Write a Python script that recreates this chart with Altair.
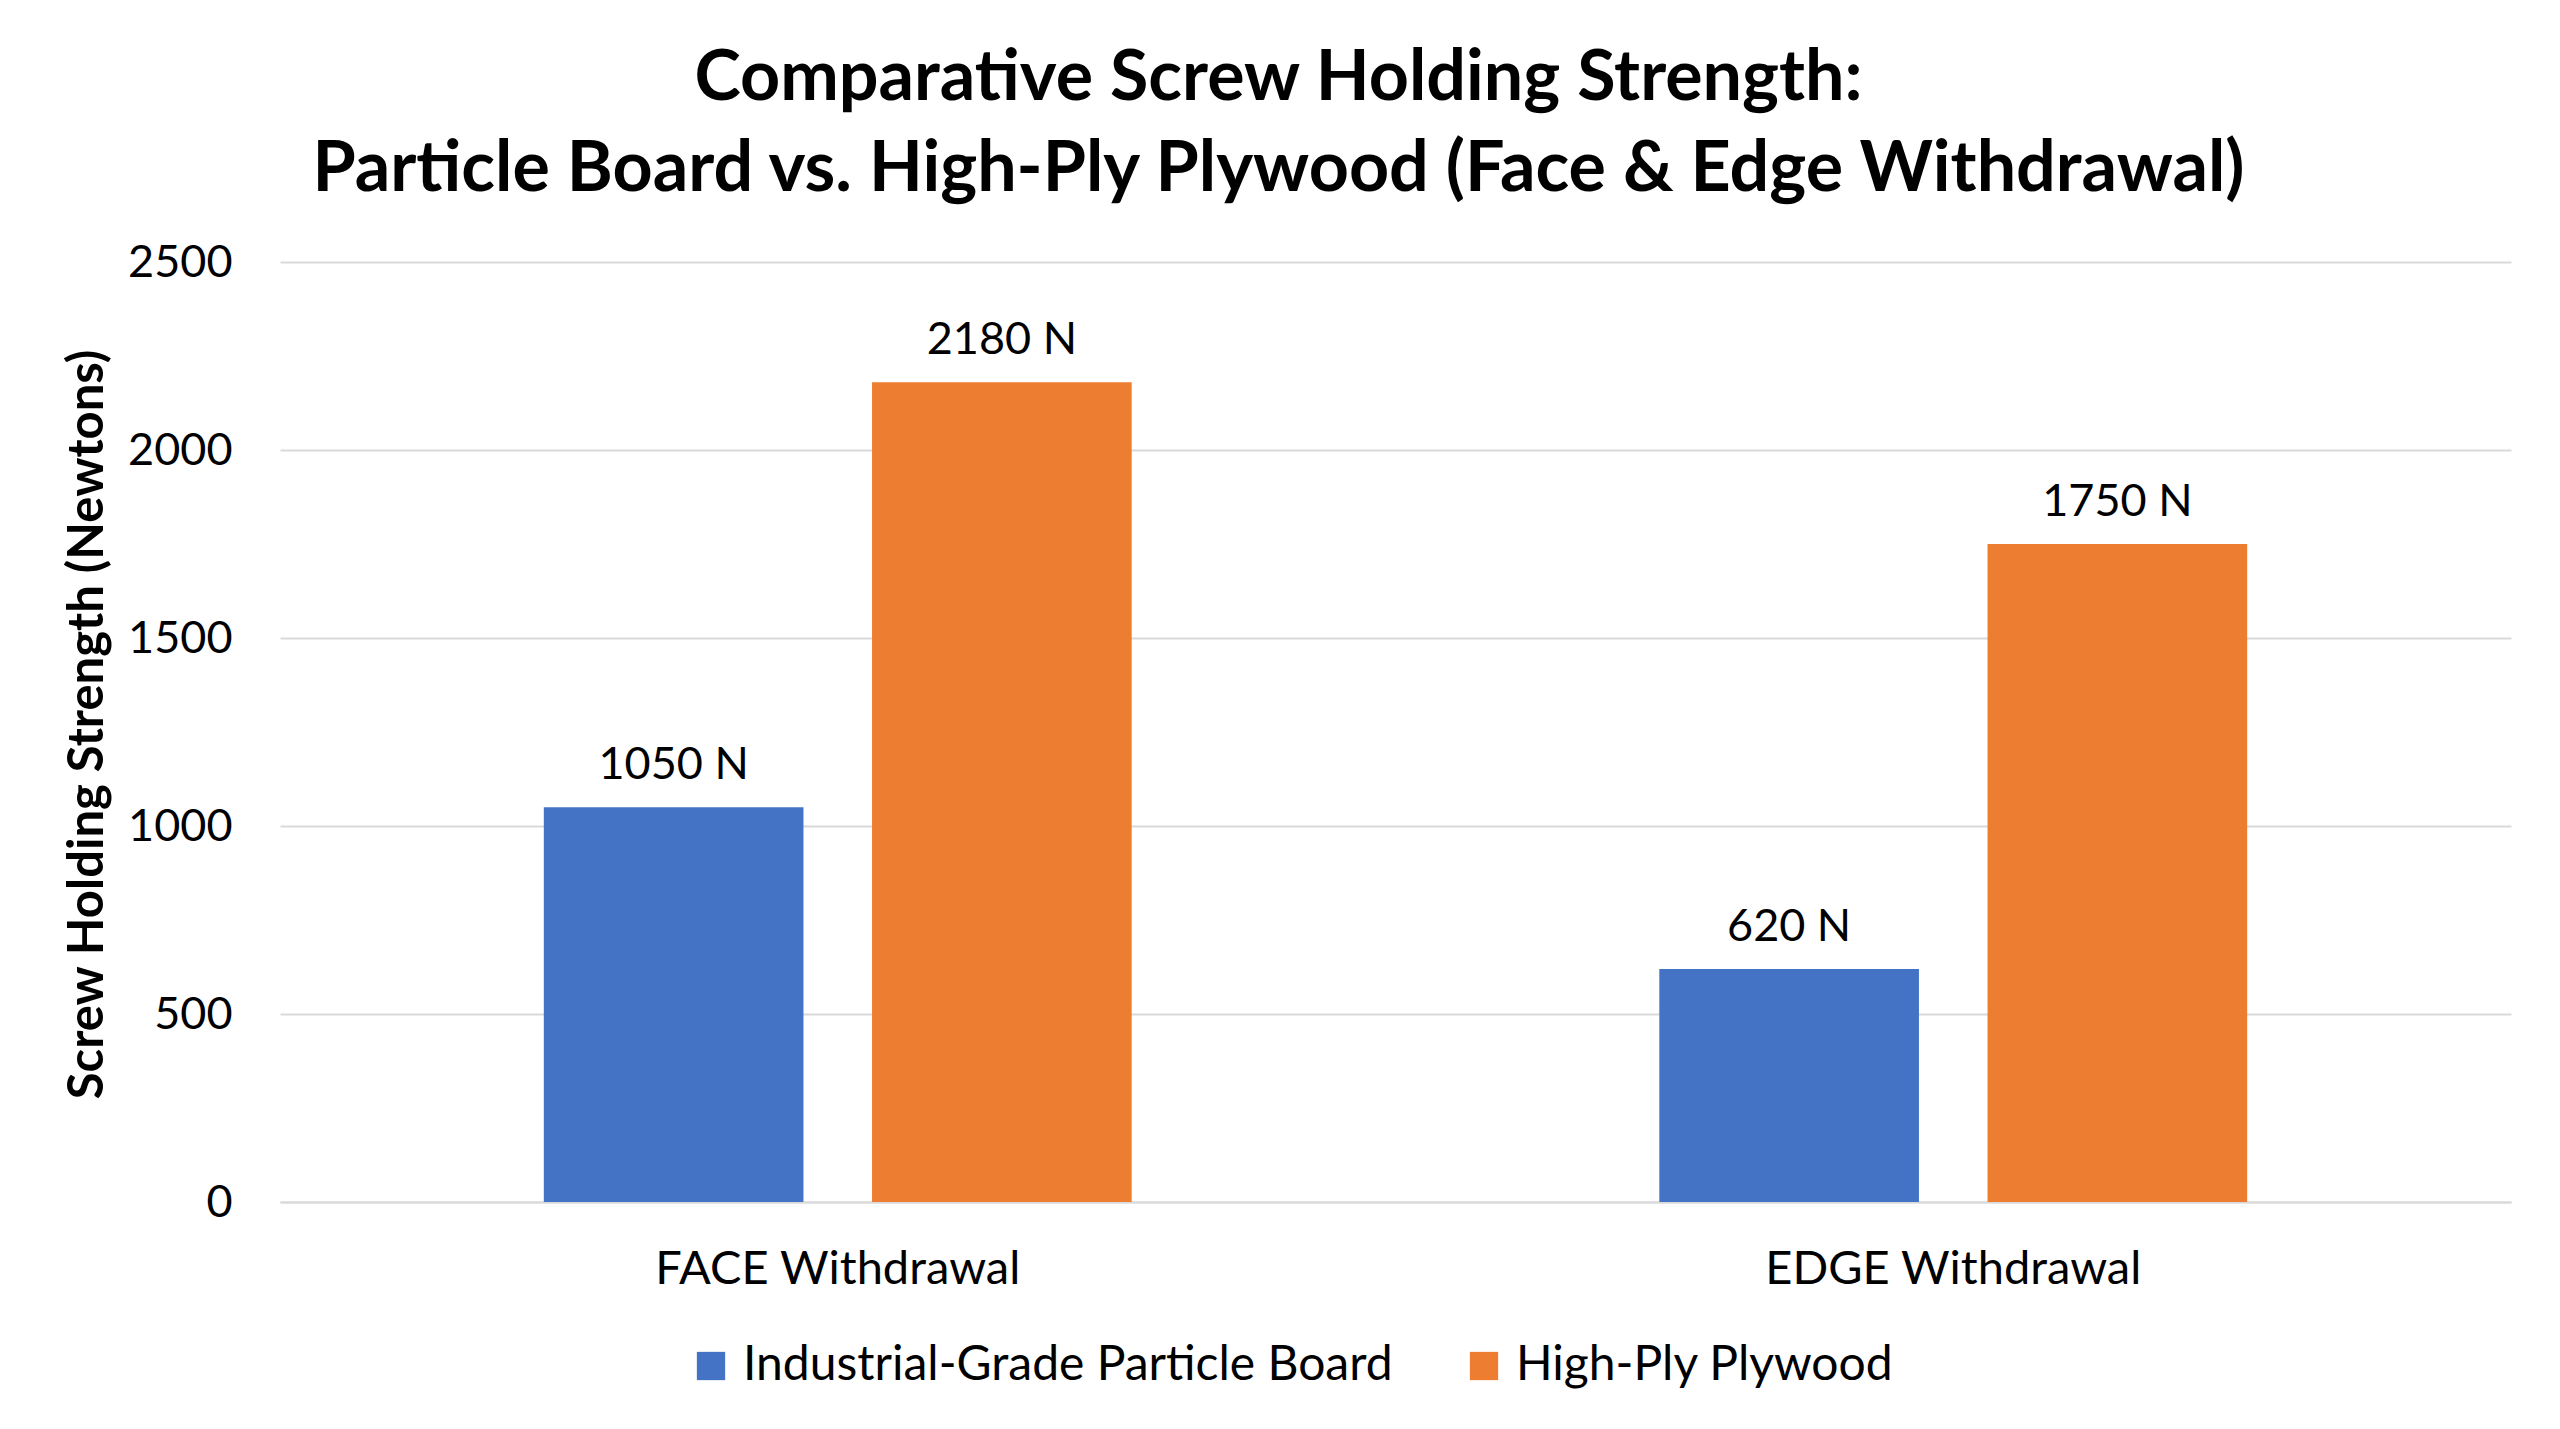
import altair as alt
import pandas as pd

categories = ["FACE Withdrawal", "EDGE Withdrawal"]
series = ["Industrial-Grade Particle Board", "High-Ply Plywood"]
particle_board = [1050, 620]
plywood = [2180, 1750]
colors = ["#4472C4", "#ED7D31"]
y_ticks = [0, 500, 1000, 1500, 2000, 2500]

rows = []
for i, c in enumerate(categories):
    rows.append({"cat": c, "series": series[0], "value": particle_board[i]})
    rows.append({"cat": c, "series": series[1], "value": plywood[i]})
df = pd.DataFrame(rows)
df["label"] = df["value"].astype(str) + " N"

FONT = "Lato"

x_enc = alt.X("cat:N", sort=categories, title=None,
              scale=alt.Scale(paddingInner=0.473, paddingOuter=0.2365),
              axis=alt.Axis(labelAngle=0, labelFontSize=47, labelFont=FONT, labelColor="#000000",
                            labelPadding=44, labelLimit=0, ticks=False, tickSize=0, domain=True,
                            domainColor="#d9d9d9", domainWidth=2, grid=False))
xo_enc = alt.XOffset("series:N", sort=series,
                     scale=alt.Scale(paddingInner=0.209, paddingOuter=0))
y_enc = alt.Y("value:Q", title="Screw Holding Strength (Newtons)",
              scale=alt.Scale(domain=[0, 2500], nice=False),
              axis=alt.Axis(values=y_ticks, format="d", labelFontSize=45, labelFont=FONT,
                            labelColor="#000000",
                            labelPadding=48, ticks=False, tickSize=0, domain=False,
                            grid=True, gridColor="#d9d9d9", gridWidth=2,
                            titleFont=FONT, titleFontSize=49, titleFontWeight="bold",
                            titleColor="#000000", titleX=-193, titleY=462,
                            titleBaseline="middle", titleAlign="center"))

bars = alt.Chart(df).mark_bar().encode(
    x=x_enc,
    xOffset=xo_enc,
    y=y_enc,
    color=alt.Color("series:N", sort=series,
                    scale=alt.Scale(domain=series, range=colors),
                    legend=alt.Legend(title=None, orient="none", direction="horizontal",
                                      legendX=407, legendY=1080,
                                      symbolType="square", symbolSize=800,
                                      symbolStrokeWidth=0, labelFont=FONT,
                                      labelFontSize=48, labelColor="#000000", labelLimit=0,
                                      labelOffset=8, columnPadding=67, padding=0)),
)

labels = alt.Chart(df).mark_text(
    baseline="alphabetic", dy=-28, font=FONT, fontSize=45, color="#000000"
).encode(
    x=alt.X("cat:N", sort=categories),
    xOffset=alt.XOffset("series:N", sort=series),
    y=alt.Y("value:Q"),
    text="label:N",
)

chart = alt.layer(bars, labels).properties(
    width=2231,
    height=940,
    background="white",
    autosize=alt.AutoSizeParams(type="none"),
    padding={"left": 272, "top": 254, "right": 35, "bottom": 219},
    title=alt.TitleParams(
        text=["Comparative Screw Holding Strength:",
              "Particle Board vs. High-Ply Plywood (Face & Edge Withdrawal)"],
        font=FONT, fontSize=70, fontWeight="bold", color="#000000",
        anchor="middle", dx=-117, offset=-36, lineHeight=91, baseline="bottom",
    ),
).configure_view(strokeWidth=0)

chart.save("out.html", embed_options={"renderer": "svg", "actions": False})
